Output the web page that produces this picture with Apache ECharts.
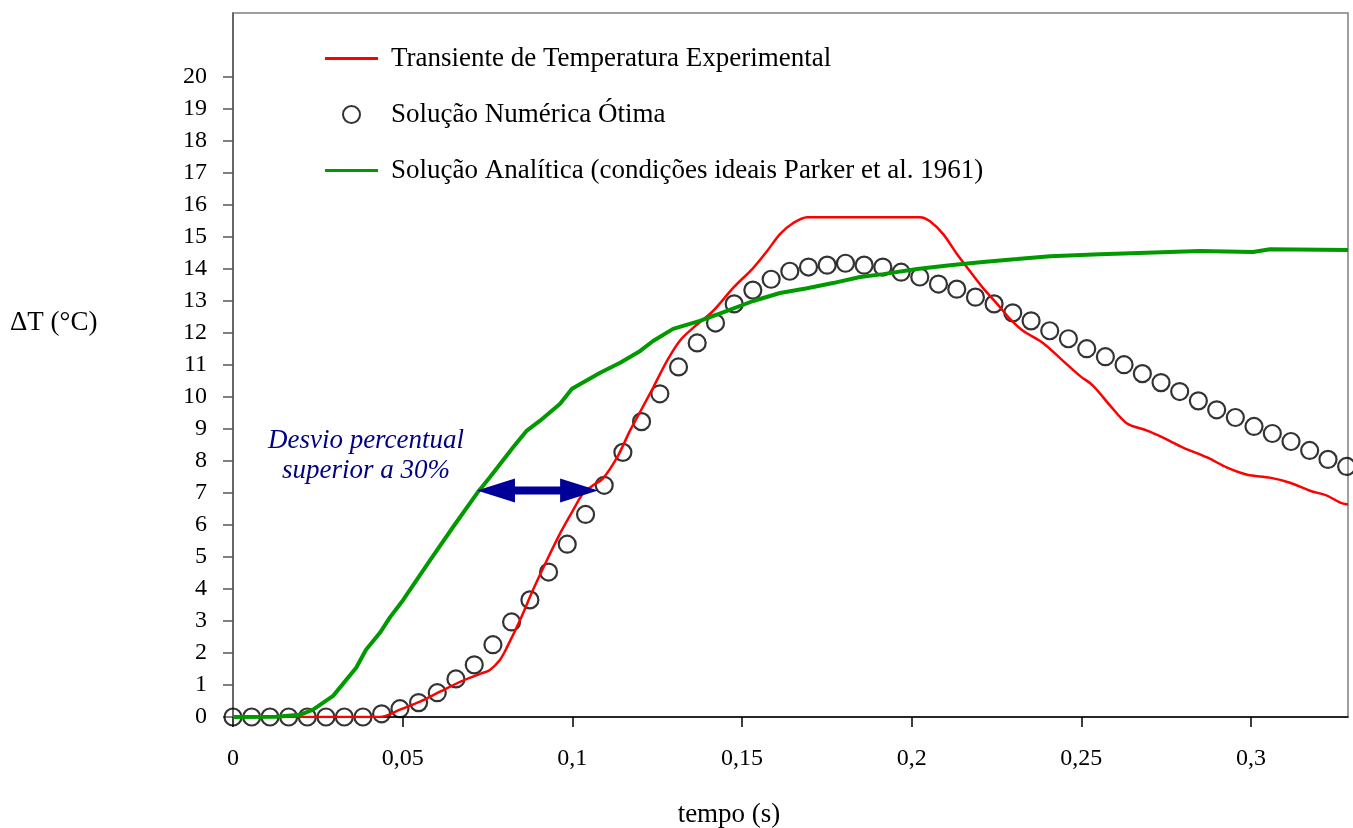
<!DOCTYPE html>
<html><head><meta charset="utf-8">
<script src="https://cdn.jsdelivr.net/npm/echarts@6/dist/echarts.min.js"></script>
<style>html,body{margin:0;padding:0;background:#fff}#c{width:1353px;height:828px}</style>
</head><body><div id="c"></div>
<script>
const xTicks = [0, 0.05, 0.1, 0.15, 0.2, 0.25, 0.3];
const yTicks = [0,1,2,3,4,5,6,7,8,9,10,11,12,13,14,15,16,17,18,19,20];
const seriesNames = ['Transiente de Temperatura Experimental', 'Solução Numérica Ótima', 'Solução Analítica (condições ideais Parker et al. 1961)'];

const expData = [[0,0],[0.0433,0],[0.0492,0.23],[0.0551,0.48],[0.0610,0.79],[0.0669,1.1],[0.0728,1.35],[0.0757,1.47],[0.0787,1.79],[0.0808,2.19],[0.0846,3.03],[0.0884,3.97],[0.0925,4.9],[0.0964,5.74],[0.1002,6.46],[0.1032,6.99],[0.1061,7.24],[0.1090,7.45],[0.1132,8.11],[0.1170,8.95],[0.1191,9.36],[0.1238,10.29],[0.1279,11.13],[0.1317,11.76],[0.1356,12.16],[0.1415,12.69],[0.1474,13.41],[0.1533,14.03],[0.1574,14.56],[0.1612,15.09],[0.1650,15.43],[0.1692,15.62],[0.1848,15.62],[0.2025,15.62],[0.2054,15.49],[0.2093,15.09],[0.2134,14.46],[0.2172,13.93],[0.2210,13.41],[0.2252,12.91],[0.2290,12.44],[0.2328,12.07],[0.2387,11.69],[0.2446,11.13],[0.2496,10.66],[0.2535,10.35],[0.2585,9.73],[0.2635,9.17],[0.2694,8.95],[0.2741,8.73],[0.2800,8.42],[0.2871,8.11],[0.2930,7.79],[0.2989,7.57],[0.3056,7.48],[0.3115,7.32],[0.3174,7.07],[0.3224,6.92],[0.3263,6.70],[0.3286,6.64]];

const numData = [[0,0],[0.0055,0],[0.0109,0],[0.0164,0],[0.0219,0],[0.0274,0],[0.0328,0],[0.0383,0],[0.0438,0.10],[0.0492,0.26],[0.0547,0.45],[0.0602,0.76],[0.0657,1.19],[0.0711,1.63],[0.0766,2.26],[0.0821,2.97],[0.0875,3.66],[0.0930,4.53],[0.0985,5.40],[0.1039,6.33],[0.1094,7.24],[0.1149,8.27],[0.1204,9.23],[0.1258,10.10],[0.1313,10.94],[0.1368,11.69],[0.1422,12.31],[0.1477,12.91],[0.1532,13.34],[0.1586,13.68],[0.1641,13.93],[0.1696,14.06],[0.1751,14.12],[0.1805,14.18],[0.1860,14.12],[0.1915,14.06],[0.1969,13.90],[0.2024,13.75],[0.2079,13.53],[0.2133,13.37],[0.2188,13.12],[0.2243,12.91],[0.2298,12.63],[0.2352,12.38],[0.2407,12.07],[0.2462,11.82],[0.2516,11.51],[0.2571,11.26],[0.2626,11.01],[0.2680,10.73],[0.2735,10.45],[0.2790,10.17],[0.2845,9.88],[0.2899,9.60],[0.2954,9.36],[0.3009,9.08],[0.3063,8.86],[0.3118,8.61],[0.3173,8.33],[0.3227,8.05],[0.3282,7.83]];

const anaData = [[0,0],[0.0127,0.01],[0.0197,0.07],[0.0236,0.23],[0.0295,0.66],[0.0363,1.54],[0.0392,2.10],[0.0433,2.63],[0.0463,3.12],[0.0501,3.65],[0.0581,4.90],[0.0648,5.93],[0.0719,6.99],[0.0757,7.49],[0.0825,8.42],[0.0866,8.95],[0.0905,9.26],[0.0964,9.79],[0.0999,10.26],[0.1082,10.76],[0.1141,11.07],[0.1200,11.44],[0.1238,11.75],[0.1297,12.13],[0.1376,12.38],[0.1456,12.69],[0.1533,13.0],[0.1612,13.25],[0.1692,13.4],[0.1768,13.56],[0.1848,13.75],[0.1916,13.84],[0.2016,14.0],[0.2113,14.12],[0.2210,14.22],[0.2311,14.31],[0.2408,14.4],[0.2555,14.46],[0.2850,14.56],[0.3006,14.53],[0.3056,14.62],[0.3286,14.59]];

const arrowData = [[0.0719, 0.1076, 7.08]];
const annotationLines = ['Desvio percentual', 'superior a 30%'];

const FONT = '"Liberation Serif", "Times New Roman", serif';
const LINE_ICON = 'path://M0,0H53V3H0Z';
const chart = echarts.init(document.getElementById('c'), null, {renderer: 'canvas'});
const fmtX = v => String(v).replace('.', ',');

chart.setOption({
  animation: false,
  backgroundColor: '#fff',
  grid: {left: 233, right: 5, top: 13, bottom: 111, show: true, borderColor: '#808080', borderWidth: 1.5},
  xAxis: {
    type: 'value', min: 0, max: 0.3286,
    axisLine: {show: true, onZero: false, lineStyle: {color: '#000', width: 1.5}},
    axisTick: {show: true, inside: false, length: 10, lineStyle: {color: '#000', width: 1.5}, customValues: xTicks},
    axisLabel: {show: true, margin: 30, fontFamily: FONT, fontSize: 24, color: '#000', formatter: fmtX, customValues: xTicks},
    splitLine: {show: false}
  },
  yAxis: {
    type: 'value', min: 0, max: 22,
    axisLine: {show: true, onZero: false, lineStyle: {color: '#555', width: 1.5}},
    axisTick: {show: true, inside: false, length: 10, lineStyle: {color: '#555', width: 1.5}, customValues: yTicks},
    axisLabel: {show: true, margin: 26, fontFamily: FONT, fontSize: 24, color: '#000', customValues: yTicks},
    splitLine: {show: false}
  },
  legend: {
    data: [
      {name: seriesNames[0], icon: LINE_ICON},
      {name: seriesNames[1]},
      {name: seriesNames[2], icon: LINE_ICON}
    ],
    orient: 'vertical', left: 325, top: 45, padding: 0, itemGap: 29,
    itemWidth: 53, itemHeight: 17, symbolKeepAspect: true,
    textStyle: {fontFamily: FONT, fontSize: 27, color: '#000', padding: [0, 0, 0, 8]},
    selectedMode: false
  },
  graphic: [
    {type: 'text', x: 10, y: 323, style: {text: 'ΔT (°C)', font: '27px ' + FONT, fill: '#000', align: 'left', verticalAlign: 'middle'}},
    {type: 'text', x: 729, y: 815, style: {text: 'tempo (s)', font: '27px ' + FONT, fill: '#000', align: 'center', verticalAlign: 'middle'}},
    {type: 'text', x: 366, y: 441, style: {text: annotationLines[0], font: 'italic 27px ' + FONT, fill: '#000080', align: 'center', verticalAlign: 'middle'}},
    {type: 'text', x: 366, y: 471, style: {text: annotationLines[1], font: 'italic 27px ' + FONT, fill: '#000080', align: 'center', verticalAlign: 'middle'}}
  ],
  series: [
    {
      name: seriesNames[1], type: 'scatter', data: numData, z: 2,
      symbol: 'circle', symbolSize: 17,
      itemStyle: {color: 'rgba(255,255,255,0)', borderColor: '#000', borderWidth: 2.2}
    },
    {
      name: seriesNames[0], type: 'line', data: expData, z: 3,
      showSymbol: false, symbol: 'none', smooth: 0.3,
      lineStyle: {color: '#ff0000', width: 2.5}, itemStyle: {color: '#ff0000'}
    },
    {
      name: seriesNames[2], type: 'line', data: anaData, z: 4,
      showSymbol: false, symbol: 'none',
      lineStyle: {color: '#009900', width: 4}, itemStyle: {color: '#009900'}
    },
    {
      name: 'arrow', type: 'custom', data: arrowData, z: 5,
      encode: {x: [0, 1], y: 2},
      renderItem: function (params, api) {
        const p1 = api.coord([api.value(0), api.value(2)]);
        const p2 = api.coord([api.value(1), api.value(2)]);
        const hl = 38, hh = 12, st = 4, y = p1[1];
        const pts = [[p1[0], y], [p1[0] + hl, y - hh], [p1[0] + hl, y - st], [p2[0] - hl, y - st], [p2[0] - hl, y - hh], [p2[0], y], [p2[0] - hl, y + hh], [p2[0] - hl, y + st], [p1[0] + hl, y + st], [p1[0] + hl, y + hh]];
        return {type: 'polygon', shape: {points: pts}, style: {fill: '#000099'}};
      }
    }
  ]
});
</script></body></html>
